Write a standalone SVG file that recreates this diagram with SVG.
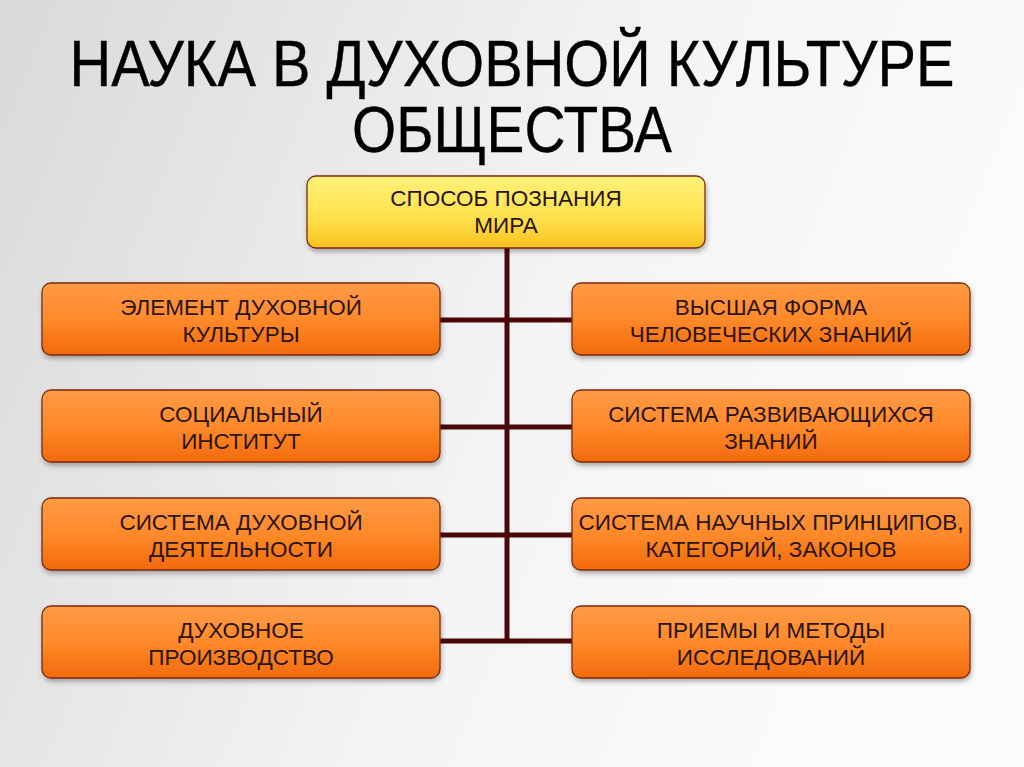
<svg xmlns="http://www.w3.org/2000/svg" width="1024" height="767" viewBox="0 0 1024 767">
<defs>
<linearGradient id="bg" x1="0" y1="0" x2="1" y2="0.3">
<stop offset="0" stop-color="#d9d9d9"/>
<stop offset="0.6" stop-color="#f4f4f4"/>
<stop offset="1" stop-color="#fbfbfb"/>
</linearGradient>
<linearGradient id="org" x1="0" y1="0" x2="0" y2="1">
<stop offset="0" stop-color="#ff9a45"/>
<stop offset="0.5" stop-color="#ff8a2a"/>
<stop offset="1" stop-color="#f26a0c"/>
</linearGradient>
<linearGradient id="yel" x1="0" y1="0" x2="0" y2="1">
<stop offset="0" stop-color="#fff27a"/>
<stop offset="0.6" stop-color="#ffe04a"/>
<stop offset="1" stop-color="#f8c21e"/>
</linearGradient>
<filter id="sh" x="-5%" y="-10%" width="110%" height="130%">
<feDropShadow dx="1" dy="3" stdDeviation="2.5" flood-color="#000" flood-opacity="0.3"/>
</filter>
<style>
.box{stroke:#7a2a10;stroke-width:1.3;filter:url(#sh)}
.t{font-family:"Liberation Sans",Arial,sans-serif;font-size:22.5px;fill:#2a1408;text-anchor:middle}
.title{font-family:"Liberation Sans",Arial,sans-serif;font-size:64px;fill:#000;text-anchor:middle;stroke:#000;stroke-width:0.4}
.c{stroke:#4a0808;stroke-width:5;fill:none}
</style>
</defs>
<rect width="1024" height="767" fill="url(#bg)"/>
<g id="title">
<text class="title" transform="translate(512 86) scale(0.86 1)" x="0" y="0" textLength="1029" lengthAdjust="spacingAndGlyphs">НАУКА В ДУХОВНОЙ КУЛЬТУРЕ</text>
<text class="title" transform="translate(512 152) scale(0.86 1)" x="0" y="0" textLength="372" lengthAdjust="spacingAndGlyphs">ОБЩЕСТВА</text>
</g>
<g id="connectors">
<path class="c" d="M507 248 V643"/>
<path class="c" d="M440 320 H572 M440 427 H572 M440 535 H572 M440 641 H572"/>
</g>
<g id="top"><rect class="box" x="307" y="176" width="398" height="72" rx="9" fill="url(#yel)"/><text class="t" x="506" y="206">СПОСОБ ПОЗНАНИЯ</text><text class="t" x="506" y="233">МИРА</text></g>
<g id="l1"><rect class="box" x="42" y="283" width="398" height="72" rx="9" fill="url(#org)"/><text class="t" x="241" y="315">ЭЛЕМЕНТ ДУХОВНОЙ</text><text class="t" x="241" y="342">КУЛЬТУРЫ</text></g>
<g id="l2"><rect class="box" x="42" y="390" width="398" height="72" rx="9" fill="url(#org)"/><text class="t" x="241" y="422">СОЦИАЛЬНЫЙ</text><text class="t" x="241" y="449">ИНСТИТУТ</text></g>
<g id="l3"><rect class="box" x="42" y="498" width="398" height="72" rx="9" fill="url(#org)"/><text class="t" x="241" y="530">СИСТЕМА ДУХОВНОЙ</text><text class="t" x="241" y="557">ДЕЯТЕЛЬНОСТИ</text></g>
<g id="l4"><rect class="box" x="42" y="606" width="398" height="72" rx="9" fill="url(#org)"/><text class="t" x="241" y="638">ДУХОВНОЕ</text><text class="t" x="241" y="665">ПРОИЗВОДСТВО</text></g>
<g id="r1"><rect class="box" x="572" y="283" width="398" height="72" rx="9" fill="url(#org)"/><text class="t" x="771" y="315">ВЫСШАЯ ФОРМА</text><text class="t" x="771" y="342">ЧЕЛОВЕЧЕСКИХ ЗНАНИЙ</text></g>
<g id="r2"><rect class="box" x="572" y="390" width="398" height="72" rx="9" fill="url(#org)"/><text class="t" x="771" y="422">СИСТЕМА РАЗВИВАЮЩИХСЯ</text><text class="t" x="771" y="449">ЗНАНИЙ</text></g>
<g id="r3"><rect class="box" x="572" y="498" width="398" height="72" rx="9" fill="url(#org)"/><text class="t" x="771" y="530">СИСТЕМА НАУЧНЫХ ПРИНЦИПОВ,</text><text class="t" x="771" y="557">КАТЕГОРИЙ, ЗАКОНОВ</text></g>
<g id="r4"><rect class="box" x="572" y="606" width="398" height="72" rx="9" fill="url(#org)"/><text class="t" x="771" y="638">ПРИЕМЫ И МЕТОДЫ</text><text class="t" x="771" y="665">ИССЛЕДОВАНИЙ</text></g>
</svg>
